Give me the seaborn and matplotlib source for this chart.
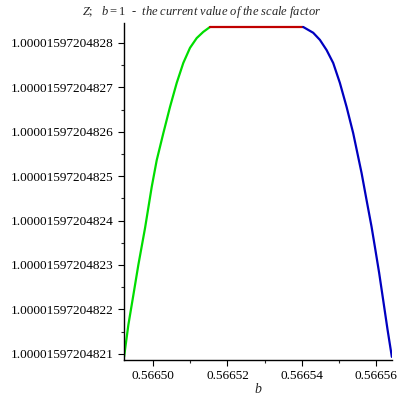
import matplotlib
matplotlib.use("Agg")
import matplotlib.pyplot as plt
import matplotlib.ticker as mticker
import pandas as pd
import seaborn as sns

# b values and Z values (Z stored as offset in units of 1e-14 from 1.000015972048)
b_green = [0.56649222, 0.56649337, 0.56649471, 0.56649605, 0.56649785, 0.56649965,
           0.56650099, 0.56650277, 0.56650456, 0.56650636, 0.56650813, 0.56650993,
           0.56651173, 0.56651350, 0.56651530]
z_green = [20.93, 21.65, 22.32, 23.00, 23.83, 24.76, 25.36, 25.97, 26.56, 27.10,
           27.55, 27.89, 28.11, 28.25, 28.36]
b_red = [0.56651530, 0.56654035]
z_red = [28.36, 28.36]
b_blue = [0.56654035, 0.56654303, 0.56654483, 0.56654663, 0.56654840, 0.56655020,
          0.56655200, 0.56655377, 0.56655603, 0.56655737, 0.56655871, 0.56655960,
          0.56656075, 0.56656183, 0.56656301, 0.56656416]
z_blue = [28.36, 28.23, 28.07, 27.84, 27.55, 27.10, 26.56, 25.97, 25.07, 24.46,
          23.86, 23.41, 22.82, 22.21, 21.54, 20.93]

base = "1.000015972048"

df = pd.concat([
    pd.DataFrame({"b": b_green, "Z": z_green, "part": "rise"}),
    pd.DataFrame({"b": b_red, "Z": z_red, "part": "flat"}),
    pd.DataFrame({"b": b_blue, "Z": z_blue, "part": "fall"}),
])

sns.set_style("ticks")
plt.rcParams["font.family"] = ["Liberation Serif", "DejaVu Serif"]
plt.rcParams["mathtext.fontset"] = "custom"
plt.rcParams["mathtext.rm"] = "Liberation Serif"
plt.rcParams["mathtext.it"] = "Liberation Serif:italic"

fig = plt.figure(figsize=(4, 4), dpi=100)
ax = fig.add_axes([0.31, 0.10, 0.67, 0.8425])

sns.lineplot(data=df, x="b", y="Z", hue="part", sort=False, estimator=None,
             palette={"rise": "#00dd00", "flat": "#c00000", "fall": "#0000c0"},
             linewidth=1.6, legend=False, ax=ax)

ax.set_xlim(0.5664922, 0.5665642)
ax.set_ylim(20.86, 28.45)
ax.xaxis.set_major_locator(mticker.MultipleLocator(0.00002))
ax.xaxis.set_minor_locator(mticker.MultipleLocator(0.00001))
ax.xaxis.set_major_formatter(mticker.FormatStrFormatter("%.5f"))
ax.yaxis.set_major_locator(mticker.MultipleLocator(1))
ax.yaxis.set_minor_locator(mticker.MultipleLocator(0.5))
ax.yaxis.set_major_formatter(mticker.FuncFormatter(lambda v, p: base + str(int(round(v)))))
ax.tick_params(axis="both", which="major", length=4, width=0.8, labelsize=9.5, colors="black")
ax.tick_params(axis="both", which="minor", length=2.5, width=0.8)
ax.set_xlabel("$b$", fontsize=10, labelpad=0)
ax.set_ylabel("")
sns.despine(ax=ax)
for s in ["left", "bottom"]:
    ax.spines[s].set_linewidth(1.0)
    ax.spines[s].set_color("black")

fig.text(0.505, 0.97,
         r"$Z$;   $b = 1$  -  $\it{the\ current\ value\ of\ the\ scale\ factor}$",
         ha="center", va="center", fontsize=9)

fig.savefig("out.png", dpi=100, facecolor="white")
